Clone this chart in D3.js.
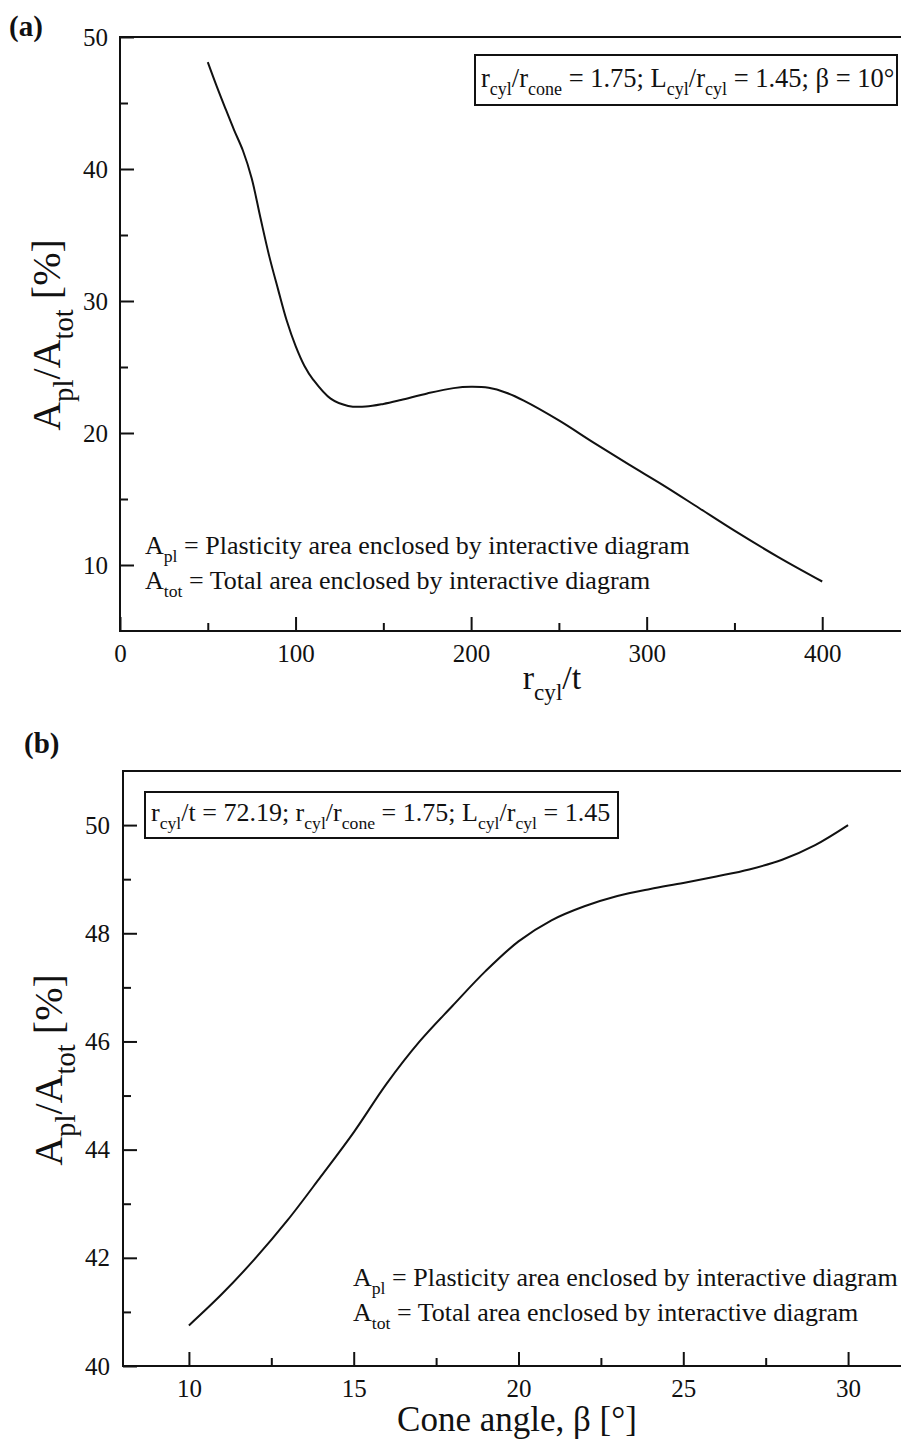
<!DOCTYPE html>
<html>
<head>
<meta charset="utf-8">
<script src="https://cdn.jsdelivr.net/npm/d3@7"></script>
<style>
  html, body { margin: 0; padding: 0; background: #fff; }
  svg { display: block; }
  svg text { font-family: "Liberation Serif", "Times New Roman", serif !important; fill: #111; }
</style>
</head>
<body>
<svg id="chart" width="901" height="1442"></svg>
<script>
// Panel (a): plastic area share versus slenderness r_cyl/t
const slenderness = [50, 55, 60, 65, 70, 75, 80, 85, 90, 95, 100, 105, 110, 120, 130, 140, 150, 160, 175, 190, 200, 210, 220, 230, 250, 270, 290, 310, 330, 350, 375, 400];
const shareA      = [48.1, 46.3, 44.6, 42.95, 41.4, 39.3, 36.3, 33.4, 30.9, 28.5, 26.6, 25.1, 24.05, 22.6, 22.05, 22.0, 22.2, 22.5, 23.0, 23.4, 23.5, 23.42, 23.05, 22.45, 20.95, 19.25, 17.6, 16.0, 14.3, 12.6, 10.6, 8.75];
const ticksAx = [0, 100, 200, 300, 400];
const minorAx = [50, 150, 250, 350];
const ticksAy = [10, 20, 30, 40, 50];
const minorAy = [15, 25, 35, 45];

// Panel (b): plastic area share versus cone angle β
const coneAngle = [10, 11, 12, 13, 14, 15, 16, 17, 18, 19, 20, 21, 22, 23, 24, 25, 26, 27, 28, 29, 30];
const shareB    = [40.75, 41.33, 41.98, 42.7, 43.5, 44.32, 45.22, 46.0, 46.66, 47.3, 47.85, 48.24, 48.5, 48.69, 48.82, 48.93, 49.05, 49.18, 49.36, 49.63, 50.0];
const ticksBx = [10, 15, 20, 25, 30];
const minorBx = [12.5, 17.5, 22.5, 27.5];
const ticksBy = [40, 42, 44, 46, 48, 50];
const minorBy = [41, 43, 45, 47, 49];

const SERIF = "'Liberation Serif', 'Times New Roman', serif";
const svg = d3.select("#chart");

// Label built from segments; "sub" segments drop, the next normal one rises back
function richText(sel, list, size, subScale = 0.68) {
  let prevSub = false;
  list.forEach(([txt, kind]) => {
    const t = sel.append("tspan").text(txt).style("font-family", SERIF);
    if (kind === "sub") {
      t.attr("font-size", size * subScale).attr("dy", size * 0.32);
      prevSub = true;
    } else {
      t.attr("font-size", size);
      if (prevSub) t.attr("dy", -size * 0.32);
      prevSub = false;
    }
  });
}

function panel(cfg) {
  const g = svg.append("g");
  const x = d3.scaleLinear().domain(cfg.xDomain).range(cfg.xRange);
  const y = d3.scaleLinear().domain(cfg.yDomain).range(cfg.yRange);
  const [x0, x1] = cfg.xRange, [y0, y1] = cfg.yRange;

  // frame
  g.append("rect").attr("x", x0).attr("y", y1).attr("width", x1 - x0).attr("height", y0 - y1)
    .attr("fill", "none").attr("stroke", "#111").attr("stroke-width", 2);

  // axes with inward ticks
  const bottom = g.append("g").attr("transform", `translate(0,${y0})`)
    .call(d3.axisBottom(x).tickValues(cfg.xTicks).tickSize(-14).tickPadding(cfg.xPad).tickFormat(d3.format("d")));
  bottom.append("g").call(d3.axisBottom(x).tickValues(cfg.xMinor).tickSize(-8).tickFormat(""));
  const left = g.append("g").attr("transform", `translate(${x0},0)`)
    .call(d3.axisLeft(y).tickValues(cfg.yTicks).tickSize(-14).tickPadding(cfg.yPad).tickFormat(d3.format("d")));
  left.append("g").call(d3.axisLeft(y).tickValues(cfg.yMinor).tickSize(-8).tickFormat(""));
  [bottom, left].forEach(a => {
    a.attr("font-family", null);
    a.selectAll(".domain").remove();
    a.selectAll("line").attr("stroke", "#111").attr("stroke-width", 2);
    a.selectAll("text").style("font-family", SERIF).attr("font-size", 25).attr("fill", "#222");
  });

  // curve
  g.append("path").datum(cfg.xs.map((v, i) => [v, cfg.ys[i]]))
    .attr("fill", "none").attr("stroke", "#111").attr("stroke-width", 2)
    .attr("d", d3.line().x(d => x(d[0])).y(d => y(d[1])).curve(d3.curveCatmullRom.alpha(0.5)));

  // parameter box
  const bt = g.append("text").attr("x", cfg.box.x + 6).attr("y", cfg.box.y + cfg.box.base);
  richText(bt, cfg.box.parts, cfg.box.size);
  g.append("rect").attr("x", cfg.box.x).attr("y", cfg.box.y).attr("width", cfg.box.w).attr("height", cfg.box.h)
    .attr("fill", "none").attr("stroke", "#111").attr("stroke-width", 2);

  // definitions
  cfg.notes.forEach((n, i) => {
    const t = g.append("text").attr("x", cfg.noteX).attr("y", cfg.noteY + i * 35);
    richText(t, n, 26);
  });

  // axis titles
  const xt = g.append("text").attr("x", cfg.xTitle[0]).attr("y", cfg.xTitle[1]).attr("text-anchor", "middle");
  richText(xt, cfg.xTitleParts, cfg.xTitle[2]);
  const yt = g.append("text").attr("transform", `translate(${cfg.yTitle[0]},${cfg.yTitle[1]}) rotate(-90)`)
    .attr("text-anchor", "middle");
  richText(yt, [["A"], ["pl", "sub"], ["/A"], ["tot", "sub"], [" [%]"]], 40, 0.72);

  // panel tag
  g.append("text").attr("x", cfg.tag[0]).attr("y", cfg.tag[1]).attr("font-size", 29)
    .attr("font-weight", "bold").style("font-family", SERIF).text(cfg.tag[2]);
}

const noteLines = [
  [["A"], ["pl", "sub"], [" = Plasticity area enclosed by interactive diagram"]],
  [["A"], ["tot", "sub"], [" = Total area enclosed by interactive diagram"]]
];

panel({
  xDomain: [0, 450], xRange: [120, 910],
  yDomain: [5, 50], yRange: [631, 37],
  xTicks: ticksAx, xMinor: minorAx, yTicks: ticksAy, yMinor: minorAy,
  xPad: 13, yPad: 12,
  xs: slenderness, ys: shareA,
  box: { x: 475, y: 55, w: 422, h: 50, base: 32, size: 26.5,
    parts: [["r"], ["cyl", "sub"], ["/r"], ["cone", "sub"], [" = 1.75; L"], ["cyl", "sub"], ["/r"], ["cyl", "sub"], [" = 1.45; β = 10°"]] },
  notes: noteLines, noteX: 145, noteY: 554,
  xTitle: [552, 689, 34], xTitleParts: [["r"], ["cyl", "sub"], ["/t"]],
  yTitle: [60, 335],
  tag: [9, 36, "(a)"]
});

panel({
  xDomain: [8, 32], xRange: [123, 914],
  yDomain: [40, 51], yRange: [1366, 771],
  xTicks: ticksBx, xMinor: minorBx, yTicks: ticksBy, yMinor: minorBy,
  xPad: 13, yPad: 13,
  xs: coneAngle, ys: shareB,
  box: { x: 145, y: 792, w: 473, h: 46, base: 29, size: 26,
    parts: [["r"], ["cyl", "sub"], ["/t = 72.19; r"], ["cyl", "sub"], ["/r"], ["cone", "sub"], [" = 1.75; L"], ["cyl", "sub"], ["/r"], ["cyl", "sub"], [" = 1.45"]] },
  notes: noteLines, noteX: 353, noteY: 1286,
  xTitle: [517, 1431, 35], xTitleParts: [["Cone angle, β [°]"]],
  yTitle: [62, 1070],
  tag: [24, 753, "(b)"]
});
</script>
</body>
</html>
